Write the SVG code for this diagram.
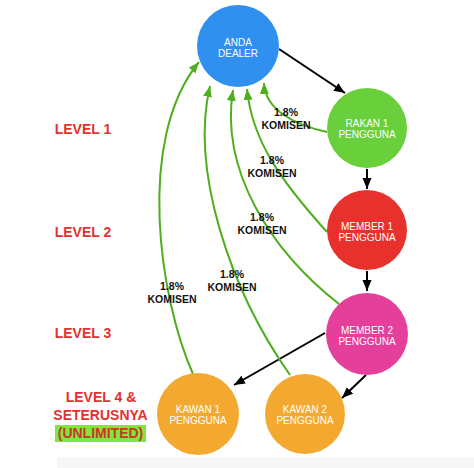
<svg xmlns="http://www.w3.org/2000/svg" width="474" height="468" viewBox="0 0 474 468">
<defs>
<style>
.node text{font-family:"Liberation Sans",Arial,sans-serif;font-size:10px;fill:#ffffff;text-anchor:middle}
.lvl{font-family:"Liberation Sans",Arial,sans-serif;font-size:14px;font-weight:bold;fill:#e4312f;text-anchor:middle}
.kom{font-family:"Liberation Sans",Arial,sans-serif;font-size:10.5px;font-weight:bold;fill:#111111;text-anchor:middle}
.g{fill:none;stroke:#4fae1e;stroke-width:2;marker-end:url(#ag)}
.b{fill:none;stroke:#000000;stroke-width:2;marker-end:url(#ab)}
</style>
<marker id="ab" markerUnits="userSpaceOnUse" markerWidth="12" markerHeight="10" refX="11" refY="4.5" orient="auto">
<path d="M0,0 L11,4.5 L0,9 Z" fill="#000000"/>
</marker>
<marker id="ag" markerUnits="userSpaceOnUse" markerWidth="12" markerHeight="10" refX="11" refY="4.5" orient="auto">
<path d="M0,0 L11,4.5 L0,9 Z" fill="#4fae1e"/>
</marker>
</defs>
<rect x="0" y="0" width="474" height="468" fill="#ffffff"/>
<rect x="57" y="457" width="417" height="11" fill="#f7f7f7"/>

<g id="connectors">
<path class="b" d="M279,49 L345,93"/>
<path class="b" d="M367,169 L367,189"/>
<path class="b" d="M367,271 L367,291"/>
<path class="b" d="M325,333 L234,385"/>
<path class="b" d="M366,375 L342,398"/>
<path class="g" d="M193,374 C160,300 135,140 199,62"/>
<path class="g" d="M290,375 C230,290 190,170 210,86"/>
<path class="g" d="M339,304 C270,250 220,170 233,90"/>
<path class="g" d="M327,232 C280,180 252,140 247,89"/>
<path class="g" d="M327,132 C295,125 265,110 264,83"/>
</g>

<g id="dealer" class="node">
<circle cx="238" cy="46" r="41" fill="#3090f0"/>
<text x="238" y="45.5">ANDA</text>
<text x="238" y="57">DEALER</text>
</g>
<g id="rakan1" class="node">
<circle cx="367" cy="128" r="40" fill="#69d03c"/>
<text x="367" y="126.5">RAKAN 1</text>
<text x="367" y="138">PENGGUNA</text>
</g>
<g id="member1" class="node">
<circle cx="367" cy="230" r="40" fill="#e8302c"/>
<text x="367" y="229.5">MEMBER 1</text>
<text x="367" y="241">PENGGUNA</text>
</g>
<g id="member2" class="node">
<circle cx="367" cy="334" r="41" fill="#e4409b"/>
<text x="367" y="333.5">MEMBER 2</text>
<text x="367" y="345">PENGGUNA</text>
</g>
<g id="kawan1" class="node">
<circle cx="198" cy="414" r="41" fill="#f3a92f"/>
<text x="198" y="412.5">KAWAN 1</text>
<text x="198" y="424">PENGGUNA</text>
</g>
<g id="kawan2" class="node">
<circle cx="305" cy="414" r="40" fill="#f3a92f"/>
<text x="305" y="412.5">KAWAN 2</text>
<text x="305" y="424">PENGGUNA</text>
</g>

<g id="commission-labels">
<text class="kom" x="286" y="116">1.8%</text>
<text class="kom" x="286" y="128.5">KOMISEN</text>
<text class="kom" x="272" y="164">1.8%</text>
<text class="kom" x="272" y="177">KOMISEN</text>
<text class="kom" x="262" y="221">1.8%</text>
<text class="kom" x="262" y="234">KOMISEN</text>
<text class="kom" x="232" y="278">1.8%</text>
<text class="kom" x="232" y="291">KOMISEN</text>
<text class="kom" x="172" y="290">1.8%</text>
<text class="kom" x="172" y="303">KOMISEN</text>
</g>

<g id="levels">
<text class="lvl" x="83" y="134">LEVEL 1</text>
<text class="lvl" x="83" y="237">LEVEL 2</text>
<text class="lvl" x="83" y="338">LEVEL 3</text>
<text class="lvl" x="101" y="402">LEVEL 4 &amp;</text>
<text class="lvl" x="100.5" y="420">SETERUSNYA</text>
<rect x="55" y="425" width="91" height="17" fill="#7fe53f"/>
<text class="lvl" x="100.5" y="438" style="fill:#c8372a">(UNLIMITED)</text>
</g>
</svg>
